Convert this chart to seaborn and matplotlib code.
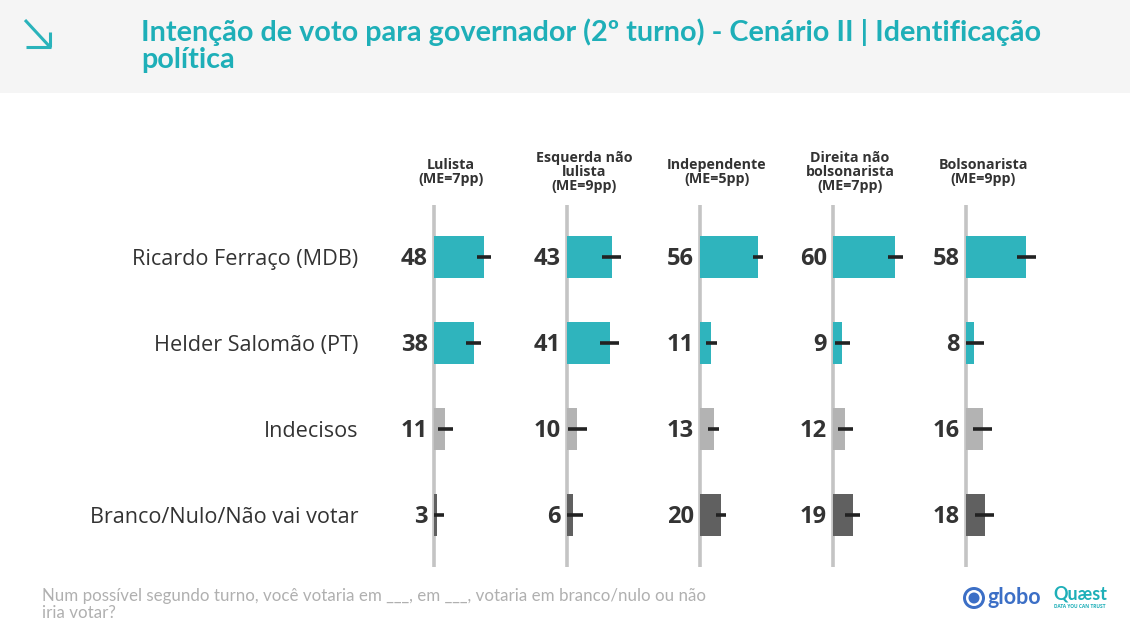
import matplotlib
matplotlib.use("Agg")
import matplotlib.pyplot as plt
import seaborn as sns
import pandas as pd
from matplotlib.lines import Line2D
from matplotlib.patches import Rectangle, Ellipse

# Data
groups = ["Lulista\n(ME=7pp)", "Esquerda não\nlulista\n(ME=9pp)", "Independente\n(ME=5pp)",
          "Direita não\nbolsonarista\n(ME=7pp)", "Bolsonarista\n(ME=9pp)"]
margins = [7, 9, 5, 7, 9]
candidates = ["Ricardo Ferraço (MDB)", "Helder Salomão (PT)", "Indecisos", "Branco/Nulo/Não vai votar"]
lulista = [48, 38, 11, 3]
esquerda = [43, 41, 10, 6]
independente = [56, 11, 13, 20]
direita = [60, 9, 12, 19]
bolsonarista = [58, 8, 16, 18]
all_values = [lulista, esquerda, independente, direita, bolsonarista]

bar_colors = ["#2fb4bd", "#2fb4bd", "#b3b3b3", "#606060"]
teal_title = "#1eafb8"

W, H = 1130, 631
sns.set_theme(style="white")
plt.rcParams['font.family'] = ['Open Sans', 'DejaVu Sans']

fig = plt.figure(figsize=(W / 100, H / 100), dpi=100)
fig.patch.set_facecolor("white")

def fx(px):
    return px / W

def fy(py):
    return 1 - py / H

# header band
fig.patches.append(Rectangle((0, fy(93)), 1, 93 / H, transform=fig.transFigure,
                             facecolor="#f5f5f5", edgecolor="none", zorder=0))
# arrow icon
for (x0, y0, x1, y1) in [(25, 20, 50, 47), (26, 47, 51, 47), (50, 32, 50, 47)]:
    fig.lines.append(Line2D([fx(x0), fx(x1)], [fy(y0), fy(y1)], transform=fig.transFigure,
                            color="#2ab3bb", lw=2.2, solid_capstyle="butt"))

fig.text(fx(141), fy(18), "Intenção de voto para governador (2º turno) - Cenário II | Identificação\npolítica",
         ha="left", va="top", fontsize=20.7, fontweight="bold", color=teal_title,
         family=["Lato", "DejaVu Sans"], linespacing=1.05)

# panels
zero_px = [434, 567, 700, 833, 966]
scale = 1.04  # px per unit
x_left, x_right = -38, 88
top_px, bot_px = 205, 567

for i, (vals, me, grp) in enumerate(zip(all_values, margins, groups)):
    left_px = zero_px[i] + x_left * scale
    width_px = (x_right - x_left) * scale
    ax = fig.add_axes([fx(left_px), fy(bot_px), width_px / W, (bot_px - top_px) / H])
    df = pd.DataFrame({"candidato": candidates, "valor": vals})
    sns.barplot(data=df, x="valor", y="candidato", hue="candidato", palette=bar_colors,
                orient="h", width=0.49, legend=False, ax=ax, zorder=2, saturation=1,
                linewidth=0)
    ax.axvline(0, color="#c4c4c4", lw=2.6, zorder=1)
    lower = [min(v, me) for v in vals]
    upper = [me] * len(vals)
    ax.errorbar(vals, range(len(vals)), xerr=[lower, upper], fmt="none",
                ecolor="#222222", elinewidth=2.6, capsize=0, zorder=3)
    for j, v in enumerate(vals):
        ax.annotate(str(v), (0, j), xytext=(-4.5, -1.2), textcoords="offset points",
                    ha="right", va="center", fontsize=17, fontweight="bold", color="#333333")
    ax.set_xlim(x_left, x_right)
    ax.set_ylim(3 + (bot_px - 515) / 86, -(257 - top_px) / 86)
    ax.set_xlabel("")
    ax.set_ylabel("")
    ax.set_xticks([])
    sns.despine(ax=ax, left=True, bottom=True)
    ax.set_facecolor("none")
    if i == 0:
        ax.tick_params(axis="y", length=0, pad=26)
        ax.set_yticks(range(len(candidates)))
        ax.set_yticklabels(candidates, fontsize=15.6, color="#333333")
    else:
        ax.set_yticks([])
    fig.text(fx(zero_px[i] + 17), fy(172), grp, ha="center", va="center", fontsize=10.3,
             fontweight="bold", color="#333333", linespacing=1.0)

# footer
fig.text(fx(42), fy(588), "Num possível segundo turno, você votaria em ___, em ___, votaria em branco/nulo ou não\niria votar?",
         ha="left", va="top", fontsize=12.2, color="#b0b0b0", family=["Lato", "DejaVu Sans"], linespacing=1.05)

# logos
for r, c in [(11, "#3c6fc6"), (8, "white"), (5.5, "#3c6fc6")]:
    fig.patches.append(Ellipse((fx(974), fy(598)), 2 * r / W, 2 * r / H, transform=fig.transFigure,
                               facecolor=c, edgecolor="none"))
fig.text(fx(987), fy(597), "globo", ha="left", va="center", fontsize=15.5, fontweight="bold",
         color="#3c6fc6", family=["Lato", "DejaVu Sans"])
fig.text(fx(1080), fy(594), "Quæst", ha="center", va="center", fontsize=13, fontweight="bold",
         color="#1eafb8", family=["Lato", "DejaVu Sans"])
fig.text(fx(1080), fy(606), "DATA YOU CAN TRUST", ha="center", va="center", fontsize=3.5,
         fontweight="bold", color="#1eafb8")

fig.savefig("out.png", dpi=100, facecolor="white")
